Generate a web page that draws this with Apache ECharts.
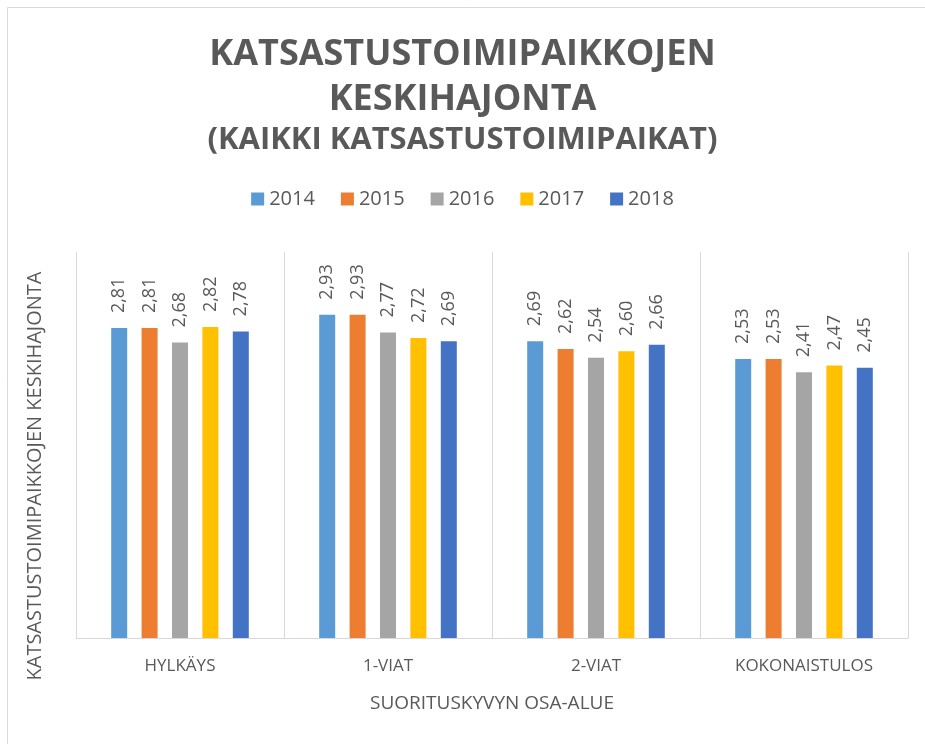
<!DOCTYPE html>
<html>
<head>
<meta charset="utf-8">
<script src="https://cdn.jsdelivr.net/npm/echarts@6/dist/echarts.min.js"></script>
<style>
  html, body { margin: 0; padding: 0; background: #fff; }
  #chart { width: 925px; height: 744px; }
</style>
</head>
<body>
<div id="chart"></div>
<script>
// categories and years
var categories = ['HYLKÄYS', '1-VIAT', '2-VIAT', 'KOKONAISTULOS'];
var years = ['2014', '2015', '2016', '2017', '2018'];
var colors = ['#5B9BD5', '#ED7D31', '#A5A5A5', '#FFC000', '#4472C4'];

// values per year, in category order
var v2014 = [2.81, 2.93, 2.69, 2.53];
var v2015 = [2.81, 2.93, 2.62, 2.53];
var v2016 = [2.68, 2.77, 2.54, 2.41];
var v2017 = [2.82, 2.72, 2.60, 2.47];
var v2018 = [2.78, 2.69, 2.66, 2.45];
var values = [v2014, v2015, v2016, v2017, v2018];

var grey = '#595959';
var chart = echarts.init(document.getElementById('chart'));

var series = years.map(function (y, i) {
    return {
        name: y,
        type: 'bar',
        data: values[i],
        barWidth: 16,
        barGap: '90%',
        itemStyle: { color: colors[i] },
        label: {
            show: true,
            position: 'top',
            rotate: 90,
            align: 'left',
            verticalAlign: 'middle',
            distance: 15,
            color: grey,
            fontSize: 18,
            fontFamily: 'Open Sans',
            formatter: function (p) {
                return p.value.toFixed(2).replace('.', ',');
            }
        }
    };
});

var option = {
    backgroundColor: '#fff',
    animation: false,
    title: [{
        text: 'KATSASTUSTOIMIPAIKKOJEN',
        left: 'center', top: 32,
        textStyle: { fontFamily: 'Open Sans', fontWeight: 'bold', fontSize: 36, color: grey }
    }, {
        text: 'KESKIHAJONTA',
        left: 'center', top: 77,
        textStyle: { fontFamily: 'Open Sans', fontWeight: 'bold', fontSize: 36, color: grey }
    }, {
        text: '(KAIKKI KATSASTUSTOIMIPAIKAT)',
        left: 'center', top: 120,
        textStyle: { fontFamily: 'Open Sans', fontWeight: 'bold', fontSize: 31, color: grey }
    }],
    legend: {
        top: 184,
        left: 'center',
        itemWidth: 13,
        itemHeight: 13,
        itemGap: 26,
        icon: 'rect',
        data: years,
        textStyle: { fontFamily: 'Open Sans', fontSize: 20, color: grey }
    },
    grid: { left: 76, right: 17, top: 252, bottom: 106 },
    xAxis: {
        type: 'category',
        data: categories,
        name: 'SUORITUSKYVYN OSA-ALUE',
        nameLocation: 'middle',
        nameGap: 56,
        nameTextStyle: { fontFamily: 'Open Sans', fontSize: 19, color: grey },
        axisLine: { lineStyle: { color: '#d9d9d9' } },
        axisTick: { show: false },
        axisLabel: { fontFamily: 'Open Sans', fontSize: 17, color: grey, margin: 20 },
        splitLine: { show: true, lineStyle: { color: '#d9d9d9' } }
    },
    yAxis: {
        type: 'value',
        min: 0,
        max: 3.5,
        name: 'KATSASTUSTOIMIPAIKKOJEN KESKIHAJONTA',
        nameLocation: 'middle',
        nameGap: 31,
        nameTextStyle: { fontFamily: 'Open Sans', fontSize: 20, color: grey, padding: [0, 62, 0, 0] },
        axisLine: { show: false },
        axisTick: { show: false },
        axisLabel: { show: false },
        splitLine: { show: false }
    },
    graphic: [{
        type: 'rect',
        shape: { x: 7.5, y: 7.5, width: 1000, height: 1000 },
        style: { fill: 'none', stroke: '#d9d9d9', lineWidth: 1 },
        silent: true
    }],
    series: series
};

chart.setOption(option);
</script>
</body>
</html>
